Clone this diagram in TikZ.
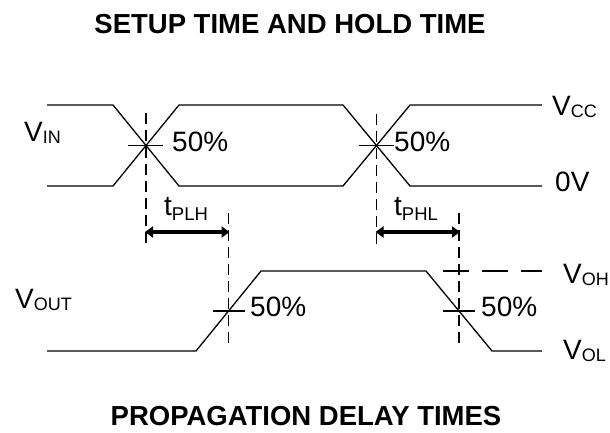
\documentclass[tikz,border=0pt]{standalone}
\usepackage{fontspec}
\setmainfont{Liberation Sans}
\usetikzlibrary{arrows.meta}
\newcommand\mylbl[2]{#1{\fontsize{18}{18}\selectfont\raisebox{-2pt}{#2}}}
\begin{document}
\begin{tikzpicture}[x=1pt,y=-1pt,
  wave/.style={line width=1.3pt,line join=miter},
  tick/.style={line width=1.1pt},
  guide/.style={line width=1.2pt,dash pattern=on 11pt off 6pt},
  levelguide/.style={line width=1.2pt,dash pattern=on 26pt off 13pt},
  delay/.style={line width=3.5pt,{Triangle[length=8pt,width=11pt]}-{Triangle[length=8pt,width=11pt]},shorten <=-1pt,shorten >=-1pt},
  txt/.style={inner sep=0pt,anchor=base west,font=\fontsize{28}{28}\selectfont},
  title/.style={inner sep=0pt,anchor=base,font=\fontsize{27.5}{27.5}\selectfont\bfseries}]
\useasboundingbox (0,0) rectangle (610,432);
% titles
\node[title] (t1) at (290,33) {SETUP TIME AND HOLD TIME};
\node[title] (t2) at (306,425) {PROPAGATION DELAY TIMES};
% key points
\coordinate (c1) at (146,145.5);
\coordinate (c2) at (376.5,145.5);
\coordinate (c3) at (228.5,311);
\coordinate (c4) at (459,311);
% input waveform
\draw[wave] (47,105) -- (113,105) -- (179,186) -- (343,186) -- (410,105) -- (542,105);
\draw[wave] (47,186) -- (113,186) -- (179,105) -- (343,105) -- (410,186) -- (542,186);
\draw[tick] ([xshift=-18pt]c1) -- ([xshift=17pt]c1);
\draw[tick] ([xshift=-18pt]c2) -- ([xshift=17pt]c2);
% output waveform
\draw[wave] (47,351) -- (196,351) -- (261,271) -- (426,271) -- (492,351) -- (542,351);
\draw[tick] ([xshift=-16pt]c3) -- ([xshift=16pt]c3);
\draw[tick] ([xshift=-16pt]c4) -- ([xshift=16pt]c4);
\draw[levelguide] (443,271) -- (542,271);
% guide lines
\coordinate (g1a) at (146,113); \coordinate (g1b) at (146,246);
\coordinate (g2a) at (376.5,114); \coordinate (g2b) at (376.5,247);
\coordinate (g3a) at (228.5,213); \coordinate (g3b) at (228.5,345);
\coordinate (g4a) at (459,213); \coordinate (g4b) at (459,345);
\draw[guide] (g1a) -- (g1b);
\draw[guide] (g2a) -- (g2b);
\draw[guide] (g3a) -- (g3b);
\draw[guide] (g4a) -- (g4b);
% delay arrows
\coordinate (a1) at (146,232); \coordinate (b1) at (228.5,232);
\coordinate (a2) at (376.5,232); \coordinate (b2) at (459,232);
\draw[delay] (a1) -- (b1);
\draw[delay] (a2) -- (b2);
% labels
\node[txt] (vin) at (24,141.5) {\mylbl{V}{IN}};
\node[txt] (vout) at (15,308) {\mylbl{V}{OUT}};
\node[txt] (p1) at (172,151) {50\%};
\node[txt] (p2) at (394,151) {50\%};
\node[txt] (p3) at (250,316) {50\%};
\node[txt] (p4) at (481,316) {50\%};
\node[txt] (vcc) at (552,115) {\mylbl{V}{CC}};
\node[txt] (zero) at (555,191) {0V};
\node[txt] (voh) at (563,283) {\mylbl{V}{OH}};
\node[txt] (vol) at (563,359) {\mylbl{V}{OL}};
\node[txt] (tplh) at (164,215) {t{\fontsize{18.5}{18.5}\selectfont\raisebox{-5pt}{PLH}}};
\node[txt] (tphl) at (394,215) {t{\fontsize{18.5}{18.5}\selectfont\raisebox{-5pt}{PHL}}};
\end{tikzpicture}
\end{document}
